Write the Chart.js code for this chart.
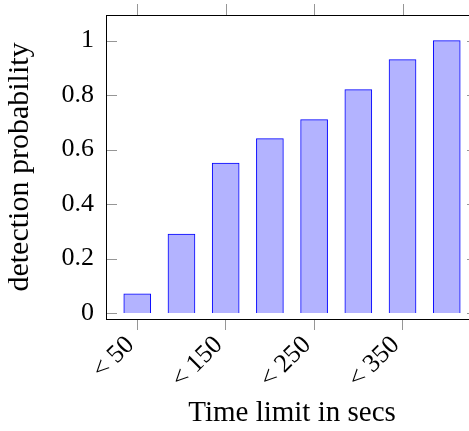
<!DOCTYPE html>
<html>
<head>
<meta charset="utf-8">
<script src="https://cdn.jsdelivr.net/npm/chart.js@4/dist/chart.umd.min.js"></script>
<style>
  html, body { margin: 0; padding: 0; background: #fff; overflow: hidden; }
  #wrap { width: 480px; height: 431px; }
</style>
</head>
<body>
<div id="wrap"><canvas id="c" width="480" height="431"></canvas></div>
<script>
// Time-limit buckets (seconds) and the detection probability reached in each
const categories = ['< 50', '< 100', '< 150', '< 200', '< 250', '< 300', '< 350', '< 400'];
const detectionProb = [0.07, 0.29, 0.55, 0.64, 0.71, 0.82, 0.93, 1.0];
// Which bucket positions carry a tick label on the x axis
const xTickPositions = [0, 2, 4, 6];
const yTickValues = [0, 0.2, 0.4, 0.6, 0.8, 1];

const serif = '"Liberation Serif", "DejaVu Serif", serif';
const tickGray = 'rgb(150,150,150)';

// Frame around the plot plus inward y ticks and outward top x ticks
const framePlugin = {
  id: 'frame',
  afterDraw(chart) {
    const { ctx, chartArea: a, scales } = chart;
    ctx.save();
    ctx.lineWidth = 1;
    ctx.strokeStyle = tickGray;
    ctx.beginPath();
    scales.y.ticks.forEach(t => {
      const y = Math.round(scales.y.getPixelForValue(t.value)) + 0.5;
      ctx.moveTo(a.left, y); ctx.lineTo(a.left + 11, y);
      ctx.moveTo(a.right, y); ctx.lineTo(a.right - 11, y);
    });
    scales.x.ticks.forEach(t => {
      const x = Math.round(scales.x.getPixelForValue(t.value)) + 0.5;
      ctx.moveTo(x, a.top); ctx.lineTo(x, a.top - 11);
    });
    ctx.stroke();
    ctx.strokeStyle = '#000';
    ctx.strokeRect(Math.round(a.left) + 0.5, Math.round(a.top) + 0.5,
                   Math.round(a.right - a.left), Math.round(a.bottom - a.top));
    ctx.restore();
  }
};

new Chart(document.getElementById('c'), {
  type: 'bar',
  data: {
    datasets: [{
      data: detectionProb.map((v, i) => ({ x: i, y: v })),
      backgroundColor: 'rgb(179,179,255)',
      borderColor: 'rgb(0,0,255)',
      borderWidth: 1,
      barThickness: 27
    }]
  },
  options: {
    responsive: false,
    animation: false,
    layout: { padding: { top: 15, right: 2, left: 0, bottom: 0 } },
    plugins: { legend: { display: false }, tooltip: { enabled: false } },
    scales: {
      x: {
        type: 'linear',
        offset: false,
        min: -0.707,
        max: 7.707,
        afterBuildTicks(s) { s.ticks = xTickPositions.map(v => ({ value: v })); },
        afterFit(s) { s.height = 112; s.paddingLeft = 0; s.paddingRight = 0; },
        grid: { offset: false, drawOnChartArea: false, drawTicks: true, tickLength: 11, color: tickGray },
        border: { display: false },
        ticks: {
          autoSkip: false,
          minRotation: 45,
          maxRotation: 45,
          padding: 0,
          labelOffset: -7,
          color: '#000',
          font: { family: serif, size: 26 },
          callback: v => categories[v]
        },
        title: {
          display: true,
          text: 'Time limit in secs',
          color: '#000',
          font: { family: serif, size: 29 },
          padding: { top: 0, bottom: 0 }
        }
      },
      y: {
        min: -0.022,
        max: 1.094,
        afterBuildTicks(s) { s.ticks = yTickValues.map(v => ({ value: v })); },
        afterFit(s) { s.width = 106; s.paddingTop = 0; s.paddingBottom = 0; },
        grid: { display: false, drawTicks: false },
        border: { display: false },
        ticks: {
          padding: 12,
          color: '#000',
          font: { family: serif, size: 26 },
          callback: v => String(v)
        },
        title: {
          display: true,
          text: 'detection probability',
          color: '#000',
          font: { family: serif, size: 30 },
          padding: { top: 2, bottom: 0 }
        }
      }
    }
  },
  plugins: [framePlugin]
});
</script>
</body>
</html>
